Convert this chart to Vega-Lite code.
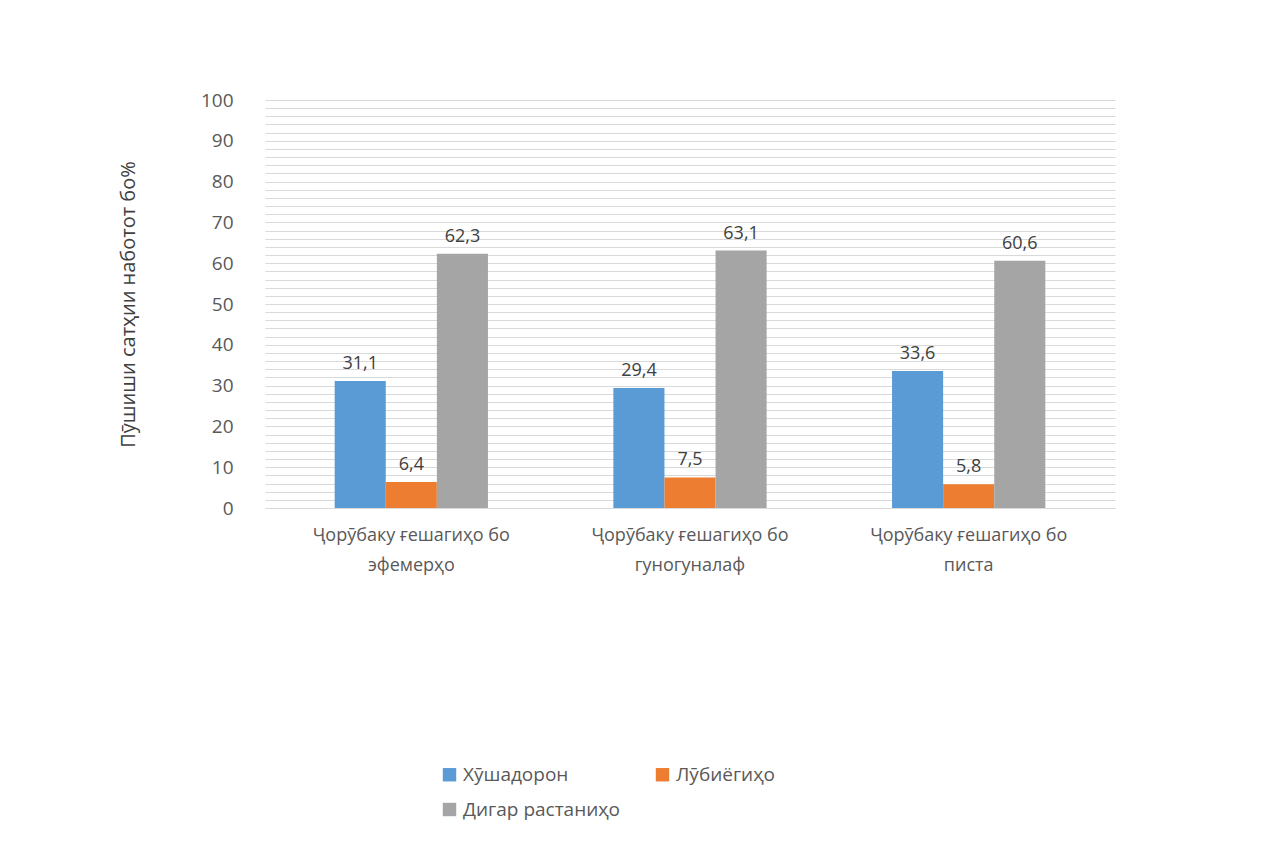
{
  "$schema": "https://vega.github.io/schema/vega-lite/v6.json",
  "autosize": {"type": "none"},
  "width": 850,
  "height": 408,
  "padding": {"left": 265, "top": 100, "right": 151, "bottom": 337},
  "background": "white",
  "data": {
    "values": [
      {"group": "Ҷорӯбаку ғешагиҳо бо|эфемерҳо", "series": "Хӯшадорон", "value": 31.1},
      {"group": "Ҷорӯбаку ғешагиҳо бо|эфемерҳо", "series": "Лӯбиёгиҳо", "value": 6.4},
      {"group": "Ҷорӯбаку ғешагиҳо бо|эфемерҳо", "series": "Дигар растаниҳо", "value": 62.3},
      {"group": "Ҷорӯбаку ғешагиҳо бо|гуногуналаф", "series": "Хӯшадорон", "value": 29.4},
      {"group": "Ҷорӯбаку ғешагиҳо бо|гуногуналаф", "series": "Лӯбиёгиҳо", "value": 7.5},
      {"group": "Ҷорӯбаку ғешагиҳо бо|гуногуналаф", "series": "Дигар растаниҳо", "value": 63.1},
      {"group": "Ҷорӯбаку ғешагиҳо бо|писта", "series": "Хӯшадорон", "value": 33.6},
      {"group": "Ҷорӯбаку ғешагиҳо бо|писта", "series": "Лӯбиёгиҳо", "value": 5.8},
      {"group": "Ҷорӯбаку ғешагиҳо бо|писта", "series": "Дигар растаниҳо", "value": 60.6}
    ]
  },
  "encoding": {
    "x": {
      "field": "group",
      "type": "nominal",
      "sort": null,
      "title": null,
      "scale": {"paddingInner": 0.45, "paddingOuter": 0.25},
      "axis": {
        "labelAngle": 0,
        "labelExpr": "split(datum.value, '|')",
        "labelFontSize": 18,
        "labelColor": "#595959",
        "labelPadding": 18,
        "labelLineHeight": 30,
        "labelLimit": 300,
        "domainColor": "#D9D9D9",
        "ticks": false
      }
    },
    "xOffset": {"field": "series", "type": "nominal", "sort": ["Хӯшадорон", "Лӯбиёгиҳо", "Дигар растаниҳо"], "scale": {"paddingInner": 0}},
    "y": {
      "field": "value",
      "type": "quantitative",
      "scale": {"domain": [0, 100]},
      "title": "Пӯшиши сатҳии наботот  бо%",
      "axis": {
        "values": [0,2,4,6,8,10,12,14,16,18,20,22,24,26,28,30,32,34,36,38,40,42,44,46,48,50,52,54,56,58,60,62,64,66,68,70,72,74,76,78,80,82,84,86,88,90,92,94,96,98,100],
        "labelExpr": "datum.value % 10 === 0 ? datum.label : ''",
        "labelFontSize": 19,
        "labelColor": "#595959",
        "labelPadding": 32,
        "ticks": false,
        "domain": false,
        "gridColor": "#D9D9D9",
        "titleFontSize": 20,
        "titleFontWeight": "normal",
        "titleColor": "#404040",
        "titlePadding": 62
      }
    }
  },
  "layer": [
    {
      "mark": {"type": "bar"},
      "encoding": {
        "color": {
          "field": "series",
          "type": "nominal",
          "sort": ["Хӯшадорон", "Лӯбиёгиҳо", "Дигар растаниҳо"],
          "scale": {"domain": ["Хӯшадорон", "Лӯбиёгиҳо", "Дигар растаниҳо"], "range": ["#5B9BD5", "#ED7D31", "#A5A5A5"]},
          "legend": {
            "title": null,
            "orient": "none",
            "legendX": 175,
            "legendY": 665,
            "columns": 2,
            "columnPadding": 32,
            "rowPadding": 15,
            "values": ["Хӯшадорон", "Дигар растаниҳо", "Лӯбиёгиҳо"],
            "symbolType": "square",
            "symbolSize": 180,
            "symbolStrokeWidth": 0,
            "labelFontSize": 19,
            "labelColor": "#595959",
            "labelLimit": 300
          }
        }
      }
    },
    {
      "mark": {"type": "text", "baseline": "bottom", "dy": -8, "fontSize": 18, "color": "#404040"},
      "encoding": {
        "text": {"field": "value", "type": "quantitative", "format": ".1f"}
      }
    }
  ],
  "config": {
    "font": "Open Sans",
    "view": {"stroke": null},
    "locale": {"number": {"decimal": ",", "thousands": " ", "grouping": [3], "currency": ["", ""]}}
  }
}
